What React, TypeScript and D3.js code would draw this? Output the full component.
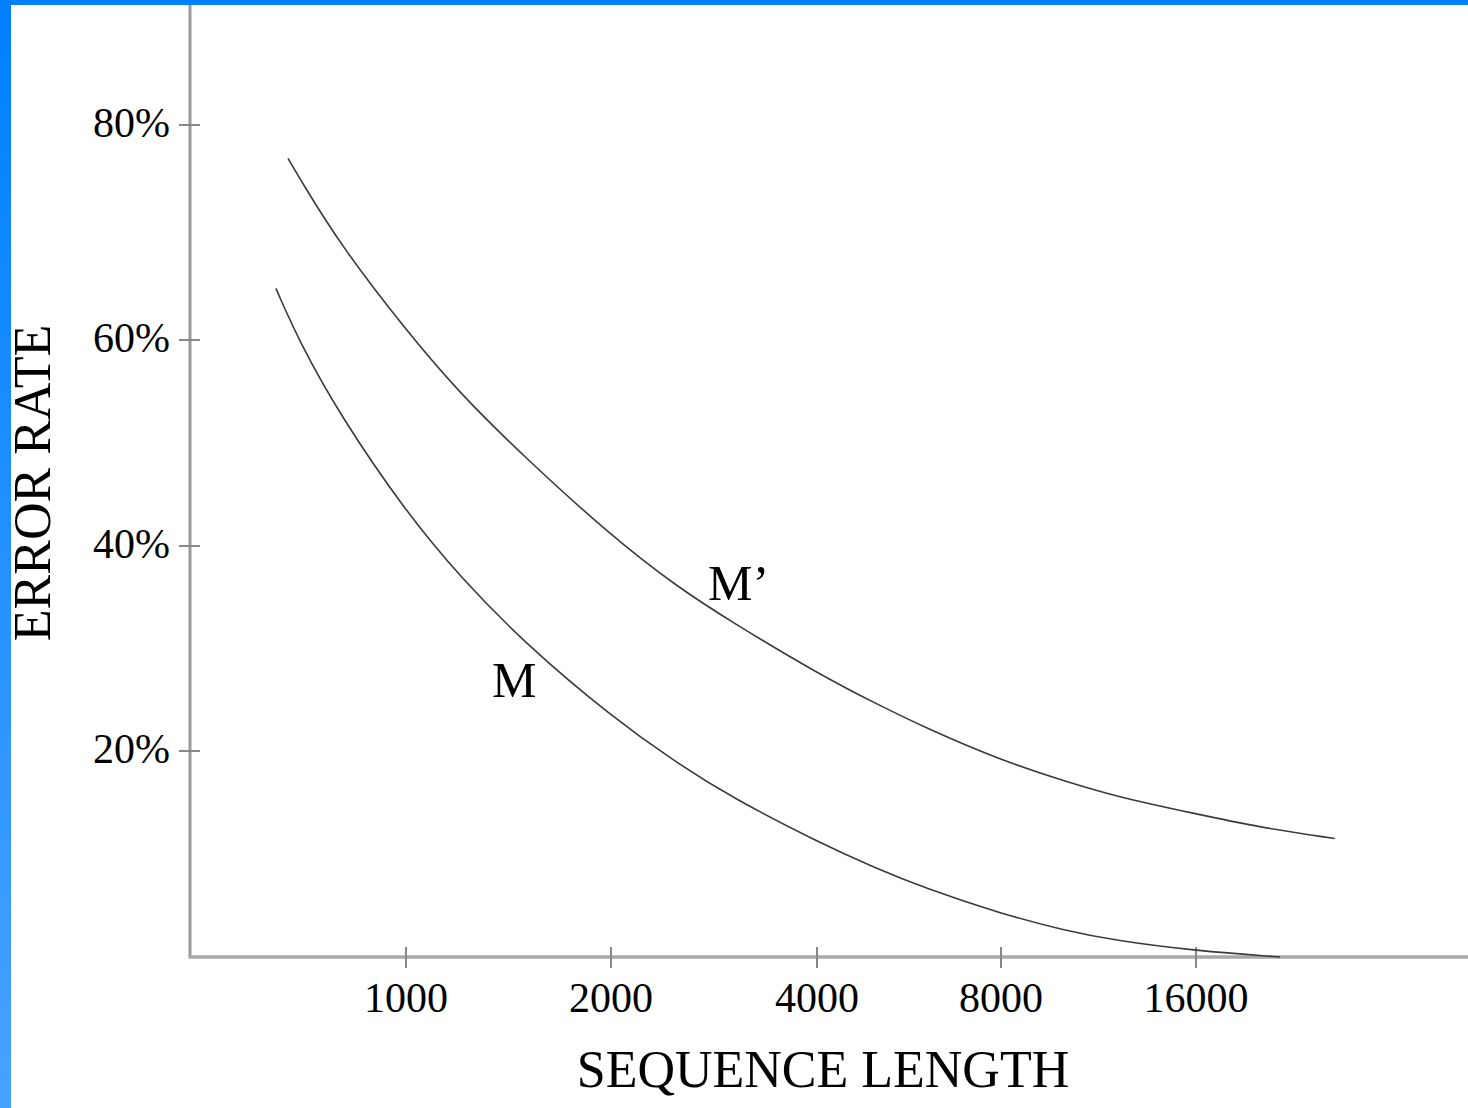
import React from "react";
import { scaleLog, scaleLinear, line, curveBasis } from "d3";

// tick values
const xTicks = [1000, 2000, 4000, 8000, 16000];
const yTicks = [0.2, 0.4, 0.6, 0.8];
const yTickLabels = ["20%", "40%", "60%", "80%"];

// M' curve (upper)
const mPrimeX = [671, 700, 800, 1000, 1200, 1500, 2000, 2500, 3000, 4000, 5000, 6000, 8000, 10000, 12000, 16000, 20000, 26200];
const mPrimeY = [0.769, 0.749, 0.689, 0.609, 0.548, 0.485, 0.41, 0.36, 0.326, 0.276, 0.246, 0.223, 0.191, 0.171, 0.156, 0.139, 0.126, 0.115];

// M curve (lower)
const mX = [644, 700, 800, 1000, 1200, 1500, 2000, 2500, 3000, 4000, 5000, 6000, 8000, 10000, 12000, 16000, 21570];
const mY = [0.648, 0.596, 0.527, 0.433, 0.37, 0.304, 0.234, 0.188, 0.155, 0.112, 0.086, 0.067, 0.042, 0.026, 0.016, 0.006, 0];

export default function App() {
  const width = 1468;
  const height = 1108;
  const font = "'Liberation Serif', 'Times New Roman', serif";

  const axisX = 190;
  const axisY = 957;

  // the original axis is not quite even, so the scales are piecewise
  const x = scaleLog()
    .domain([1000, 2000, 4000, 8000, 16000])
    .range([406, 611, 817, 1001, 1196]);
  const y = scaleLinear()
    .domain([0, 0.2, 0.4, 0.6, 0.8])
    .range([axisY, 751, 546, 340, 125]);

  const lineGen = line<[number, number]>()
    .x(d => x(d[0]))
    .y(d => y(d[1]))
    .curve(curveBasis);

  const series = [
    mPrimeX.map((v, i) => [v, mPrimeY[i]] as [number, number]),
    mX.map((v, i) => [v, mY[i]] as [number, number]),
  ];

  return (
    <svg
      width={width}
      height={height}
      style={{ position: "fixed", left: 0, top: 0, background: "#fff" }}
    >
      <defs>
        <linearGradient id="edge" x1="0" y1="0" x2="0" y2="1">
          <stop offset="0%" stopColor="#0080ff" />
          <stop offset="100%" stopColor="#46a2ff" />
        </linearGradient>
      </defs>
      <rect x={0} y={0} width={width} height={height} fill="#fff" />

      {/* axes */}
      <line x1={axisX} y1={0} x2={axisX} y2={axisY} stroke="#9a9a9a" strokeWidth={3} />
      <line x1={axisX - 1.5} y1={axisY} x2={width} y2={axisY} stroke="#a8a8a8" strokeWidth={3.5} />

      {yTicks.map((t, i) => (
        <g key={`y${i}`}>
          <line x1={179} x2={200} y1={y(t)} y2={y(t)} stroke="#888" strokeWidth={2} />
          <text x={170} y={y(t) + 12} textAnchor="end" fontFamily={font} fontSize={42} fill="#000">
            {yTickLabels[i]}
          </text>
        </g>
      ))}

      {xTicks.map((t, i) => (
        <g key={`x${i}`}>
          <line x1={x(t)} x2={x(t)} y1={947} y2={968} stroke="#888" strokeWidth={2} />
          <text x={x(t)} y={1012} textAnchor="middle" fontFamily={font} fontSize={42} fill="#000">
            {t}
          </text>
        </g>
      ))}

      {/* curves */}
      {series.map((s, i) => (
        <path key={`s${i}`} d={lineGen(s) || ""} fill="none" stroke="#3a3a3a" strokeWidth={1.6} />
      ))}

      <text x={708} y={600} fontFamily={font} fontSize={50} fill="#000">M’</text>
      <text x={492} y={697} fontFamily={font} fontSize={50} fill="#000">M</text>

      <text x={823} y={1087} textAnchor="middle" fontFamily={font} fontSize={52} fill="#000">
        SEQUENCE LENGTH
      </text>
      <text
        transform="translate(50,483) rotate(-90)"
        textAnchor="middle"
        fontFamily={font}
        fontSize={52}
        fill="#000"
      >
        ERROR RATE
      </text>

      {/* blue frame */}
      <rect x={0} y={0} width={width} height={5} fill="#0080ff" />
      <rect x={0} y={0} width={11} height={height} fill="url(#edge)" />
    </svg>
  );
}
